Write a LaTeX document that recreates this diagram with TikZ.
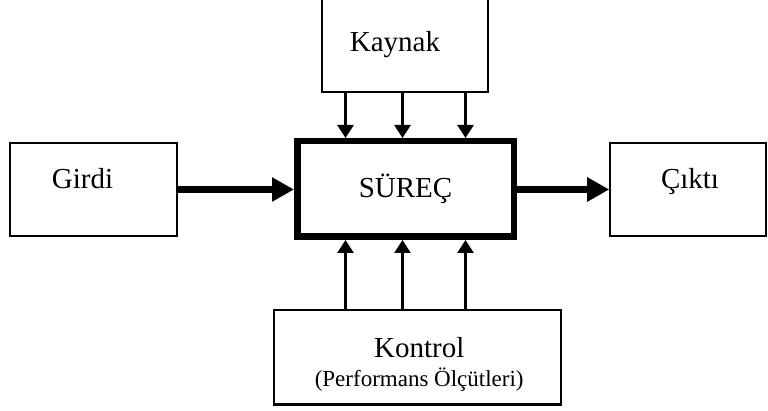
\documentclass[tikz,border=0pt]{standalone}
\usepackage{fontspec}
\setmainfont{Liberation Serif}
\usetikzlibrary{arrows.meta,calc}
\tikzset{%
  kutu/.style={draw, line width=2.2pt, inner sep=0pt},
  surecbox/.style={draw, line width=6.5pt, inner sep=0pt, font=\fontsize{29}{30}\selectfont},
  yazi/.style={font=\fontsize{29}{29.3}\selectfont, inner sep=0pt},
  ince/.style={line width=2.7pt, -{Triangle[length=13pt,width=16pt]}},
  kalin/.style={line width=7pt, -{Triangle[length=22pt,width=23pt]}}
}
\begin{document}
\begin{tikzpicture}[x=1pt,y=-1pt]
    
        \useasboundingbox (0,0) rectangle (768,411);
        \clip (0,0) rectangle (768,411);
        
        % Boxes
        \node[surecbox, minimum width=216.5pt, minimum height=95.5pt] (surec) at (405.5,189) {SÜREÇ};
        \node[kutu, minimum width=166pt, minimum height=112pt,
              label={[yazi,xshift=-10pt,yshift=-9pt]center:Kaynak}] (kaynak) at (405,36) {};
        \node[kutu, minimum width=166.4pt, minimum height=93.6pt,
              label={[yazi,xshift=-11pt,yshift=11pt]center:Girdi}] (girdi) at (93.5,189.5) {};
        \node[kutu, minimum width=155.4pt, minimum height=93.6pt,
              label={[yazi,xshift=2pt,yshift=8pt]center:Çıktı}] (cikti) at (688,189.5) {};
        \node[kutu, minimum width=287pt, minimum height=94.2pt,
              label={[yazi,align=center,xshift=2pt,yshift=-7pt]center:{Kontrol\\{\fontsize{23}{29.3}\selectfont (Performans Ölçütleri)}}}] (kontrol) at (417.2,357.4) {};
        
        % Thick arrows
        \draw[kalin] (girdi.east) -- (girdi.east -| surec.west);
        \draw[kalin] (surec.east |- cikti.west) -- (cikti.west);
        
        % Thin arrows, resources and control
        \foreach \dx in {-60,-3,60}
            {
            \coordinate (p) at ($(surec.center)+(\dx,0)$);
            \draw[ince] (p |- kaynak.south) -- (p |- surec.north);
            \draw[ince] (p |- kontrol.north) -- (p |- surec.south);
            }
        
    \end{tikzpicture}
\end{document}
